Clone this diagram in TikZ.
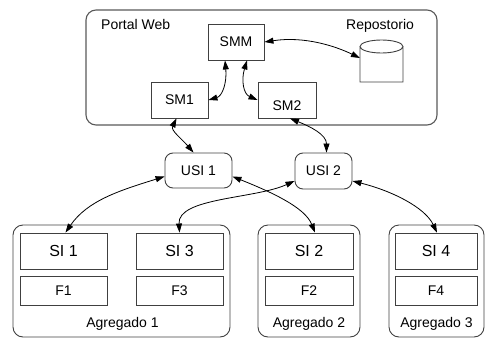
\documentclass[tikz,border=0pt]{standalone}
\usepackage{fontspec}
\setmainfont{Liberation Sans}
\usetikzlibrary{arrows.meta}

\begin{document}
\begin{tikzpicture}[x=1pt,y=-1pt,
  font=\fontsize{14}{16}\selectfont,
  group/.style={draw=black!65, line width=1.1pt, rounded corners=10pt, inner sep=0pt},
  unit/.style={draw=black!75, line width=0.9pt, rounded corners=8pt, inner sep=0pt},
  box/.style={draw=black!75, line width=0.9pt, inner sep=0pt},
  aggbox/.style={draw=black!75, line width=0.9pt, rounded corners=10pt, inner sep=0pt, minimum height=112pt},
  silabel/.style={font=\fontsize{16}{18}\selectfont},
  link/.style={draw=black, line width=0.8pt, {Triangle[length=9pt,width=6pt]}-{Triangle[length=9pt,width=6pt]}},
]
\useasboundingbox (0,0) rectangle (486,337);

% Portal Web group
\node[group, minimum width=351pt, minimum height=115pt] (portal) at (261.5,67.5) {};
\node[anchor=base west, inner sep=0pt] (portaltxt) at (101,30) {Portal Web};
\node[anchor=base west, inner sep=0pt] (repotxt) at (346,30) {Repostorio};

\node[box, minimum width=56pt, minimum height=36pt] (smm) at (236,42) {SMM};
\node[box, minimum width=57pt, minimum height=36pt] (sm1) at (179.5,100) {SM1};
\node[box, minimum width=58pt, minimum height=36pt] (sm2) at (287,100) {};
\node[inner sep=0pt] (sm2txt) at (287,106) {SM2};

% repository cylinder
\draw[draw=black!75, line width=0.9pt]
  (360,46.5) -- (360,82) -- (403,82) -- (403,46.5)
  (381.5,46.5) ellipse [x radius=21.5pt, y radius=6.5pt];
\coordinate (repo) at (360,58);

% USI nodes
\node[unit, minimum width=67pt, minimum height=35pt] (usi1) at (198.5,170.5) {USI 1};
\node[unit, minimum width=57pt, minimum height=36pt] (usi2) at (323.5,171) {USI 2};

% aggregates
\node[aggbox, minimum width=217pt] (agg1) at (121.5,281) {};
\node[aggbox, minimum width=102pt] (agg2) at (309,281) {};
\node[aggbox, minimum width=95pt] (agg3) at (436.5,281) {};

\node[box, silabel, minimum width=87pt, minimum height=36pt] (si1) at (63.5,251) {SI 1};
\node[box, minimum width=87pt, minimum height=29pt] (f1) at (63.5,290.5) {F1};
\node[box, silabel, minimum width=87pt, minimum height=36pt] (si3) at (179.5,251) {SI 3};
\node[box, minimum width=87pt, minimum height=29pt] (f3) at (179.5,290.5) {F3};
\node[box, silabel, minimum width=88pt, minimum height=36pt] (si2) at (309,251) {SI 2};
\node[box, minimum width=88pt, minimum height=29pt] (f2) at (309,290.5) {F2};
\node[box, silabel, minimum width=82pt, minimum height=36pt] (si4) at (436,251) {SI 4};
\node[box, minimum width=82pt, minimum height=29pt] (f4) at (436,290.5) {F4};

\node[anchor=base, inner sep=0pt] (agg1txt) at (122.5,327) {Agregado 1};
\node[anchor=base, inner sep=0pt] (agg2txt) at (309,327) {Agregado 2};
\node[anchor=base, inner sep=0pt] (agg3txt) at (436.5,327) {Agregado 3};

% connectors
\path[link] (smm.east) .. controls +(40,-6) and +(-25,-12) .. (repo);
\path[link] ([xshift=-11pt]smm.south) .. controls +(2,22) and +(14,-4) .. (sm1.east);
\path[link] ([xshift=11pt]smm.south) .. controls +(-6,20) and +(-14,-6) .. (sm2.west);
\path[link] ([xshift=-3pt]sm1.south) .. controls +(-6,12) and +(-12,-14) .. ([xshift=-5pt]usi1.north);
\path[link] ([xshift=3pt]sm2.south) .. controls +(20,8) and +(0,-18) .. ([xshift=3pt]usi2.north);
\path[link] ([yshift=-6pt]usi1.west) .. controls +(-45,14) and +(22,-32) .. ([xshift=2pt]si1.north);
\path[link] ([yshift=-6pt]usi1.east) .. controls +(40,16) and +(-10,-25) .. ([xshift=6pt]si2.north);
\path[link] ([yshift=-10pt]usi2.west) .. controls +(-40,18) and +(-2,-35) .. (si3.north);
\path[link] ([yshift=-10pt]usi2.east) .. controls +(40,10) and +(-12,-25) .. ([xshift=1pt]si4.north);
\end{tikzpicture}
\end{document}
